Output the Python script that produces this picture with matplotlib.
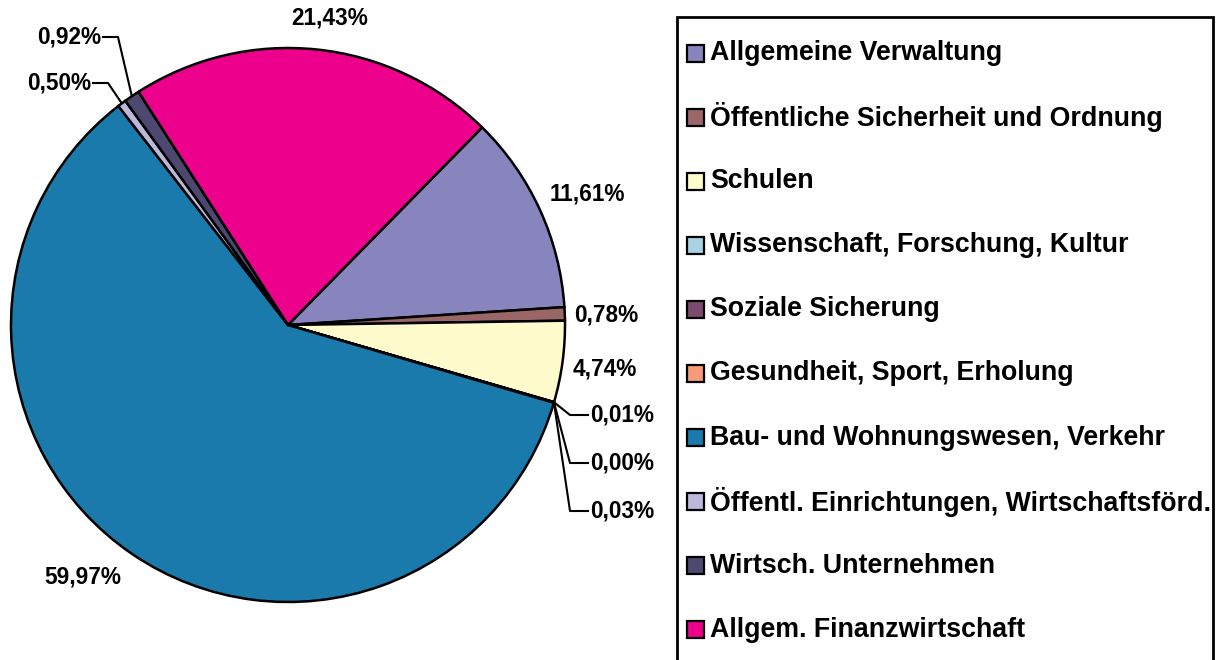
import numpy as np
import matplotlib
matplotlib.use("Agg")
import matplotlib.pyplot as plt
from matplotlib.patches import Rectangle

# ---- data ----
categories = [
    "Allgemeine Verwaltung",
    "Öffentliche Sicherheit und Ordnung",
    "Schulen",
    "Wissenschaft, Forschung, Kultur",
    "Soziale Sicherung",
    "Gesundheit, Sport, Erholung",
    "Bau- und Wohnungswesen, Verkehr",
    "Öffentl. Einrichtungen, Wirtschaftsförd.",
    "Wirtsch. Unternehmen",
    "Allgem. Finanzwirtschaft",
]
shares = [11.61, 0.78, 4.74, 0.01, 0.00, 0.03, 59.97, 0.50, 0.92, 21.43]
value_labels = ["11,61%", "0,78%", "4,74%", "0,01%", "0,00%", "0,03%",
                "59,97%", "0,50%", "0,92%", "21,43%"]
colors = ["#8884BD", "#9A6668", "#FFFBCC", "#A9D3E3", "#7A4B6E",
          "#F79A7A", "#1A7AAB", "#BCB8DA", "#4C4870", "#EC008C"]

# ---- layout (pixel coordinates, image y downward) ----
W, H = 1223, 660
CX, CY, R = 288, 325, 277
FONT = "Liberation Sans"

def Y(y):
    return H - y

fig = plt.figure(figsize=(W / 100, H / 100), dpi=100)
ax = fig.add_axes([0, 0, 1, 1])
wedges, _ = ax.pie(shares, colors=colors, startangle=45.5, counterclock=False,
                   center=(CX, Y(CY)), radius=R,
                   wedgeprops=dict(edgecolor="black", linewidth=1.8))
ax.set_xlim(0, W)
ax.set_ylim(0, H)
ax.set_aspect("equal")
ax.set_axis_off()

def edge_point(w, frac=1.0):
    a = np.deg2rad((w.theta1 + w.theta2) / 2)
    return CX + frac * R * np.cos(a), Y(CY) + frac * R * np.sin(a)

tkw = dict(fontsize=16.3, fontweight="bold", family=FONT, color="black")

# direct labels (text centre positions)
direct = {0: (587, 194), 1: (606, 315), 2: (605, 369), 6: (83, 577), 9: (330, 18)}
for i, (x, y) in direct.items():
    ax.text(x, Y(y), value_labels[i], ha="center", va="center", **tkw)

# callout labels on the right (tiny slices)
right = {3: 415, 4: 463, 5: 511}
for i, y in right.items():
    px, py = edge_point(wedges[i])
    ax.plot([px, 570, 588], [py, Y(y), Y(y)], color="black", lw=1.5)
    ax.text(590, Y(y), value_labels[i], ha="left", va="center", **tkw)

# callout labels on the upper left
left = {7: (91, 83, 108), 8: (101, 37, 118)}
for i, (xe, y, xk) in left.items():
    px, py = edge_point(wedges[i])
    ax.plot([px, xk, xe + 2], [py, Y(y), Y(y)], color="black", lw=1.5)
    ax.text(xe, Y(y), value_labels[i], ha="right", va="center", **tkw)

# legend box
ax.add_patch(Rectangle((677, Y(665)), 1213 - 677, 665 - 17, facecolor="white",
                       edgecolor="black", linewidth=2, zorder=3))
row0, step = 53, 64.1
for k, (name, c) in enumerate(zip(categories, colors)):
    yc = row0 + k * step
    ax.add_patch(Rectangle((687, Y(yc) - 8.5), 17, 17, facecolor=c,
                           edgecolor="black", linewidth=1.6, zorder=4))
    ax.text(710, Y(yc), name, ha="left", va="center", fontsize=19.3,
            fontweight="bold", family=FONT, zorder=5)

fig.savefig("out.png", dpi=100)
